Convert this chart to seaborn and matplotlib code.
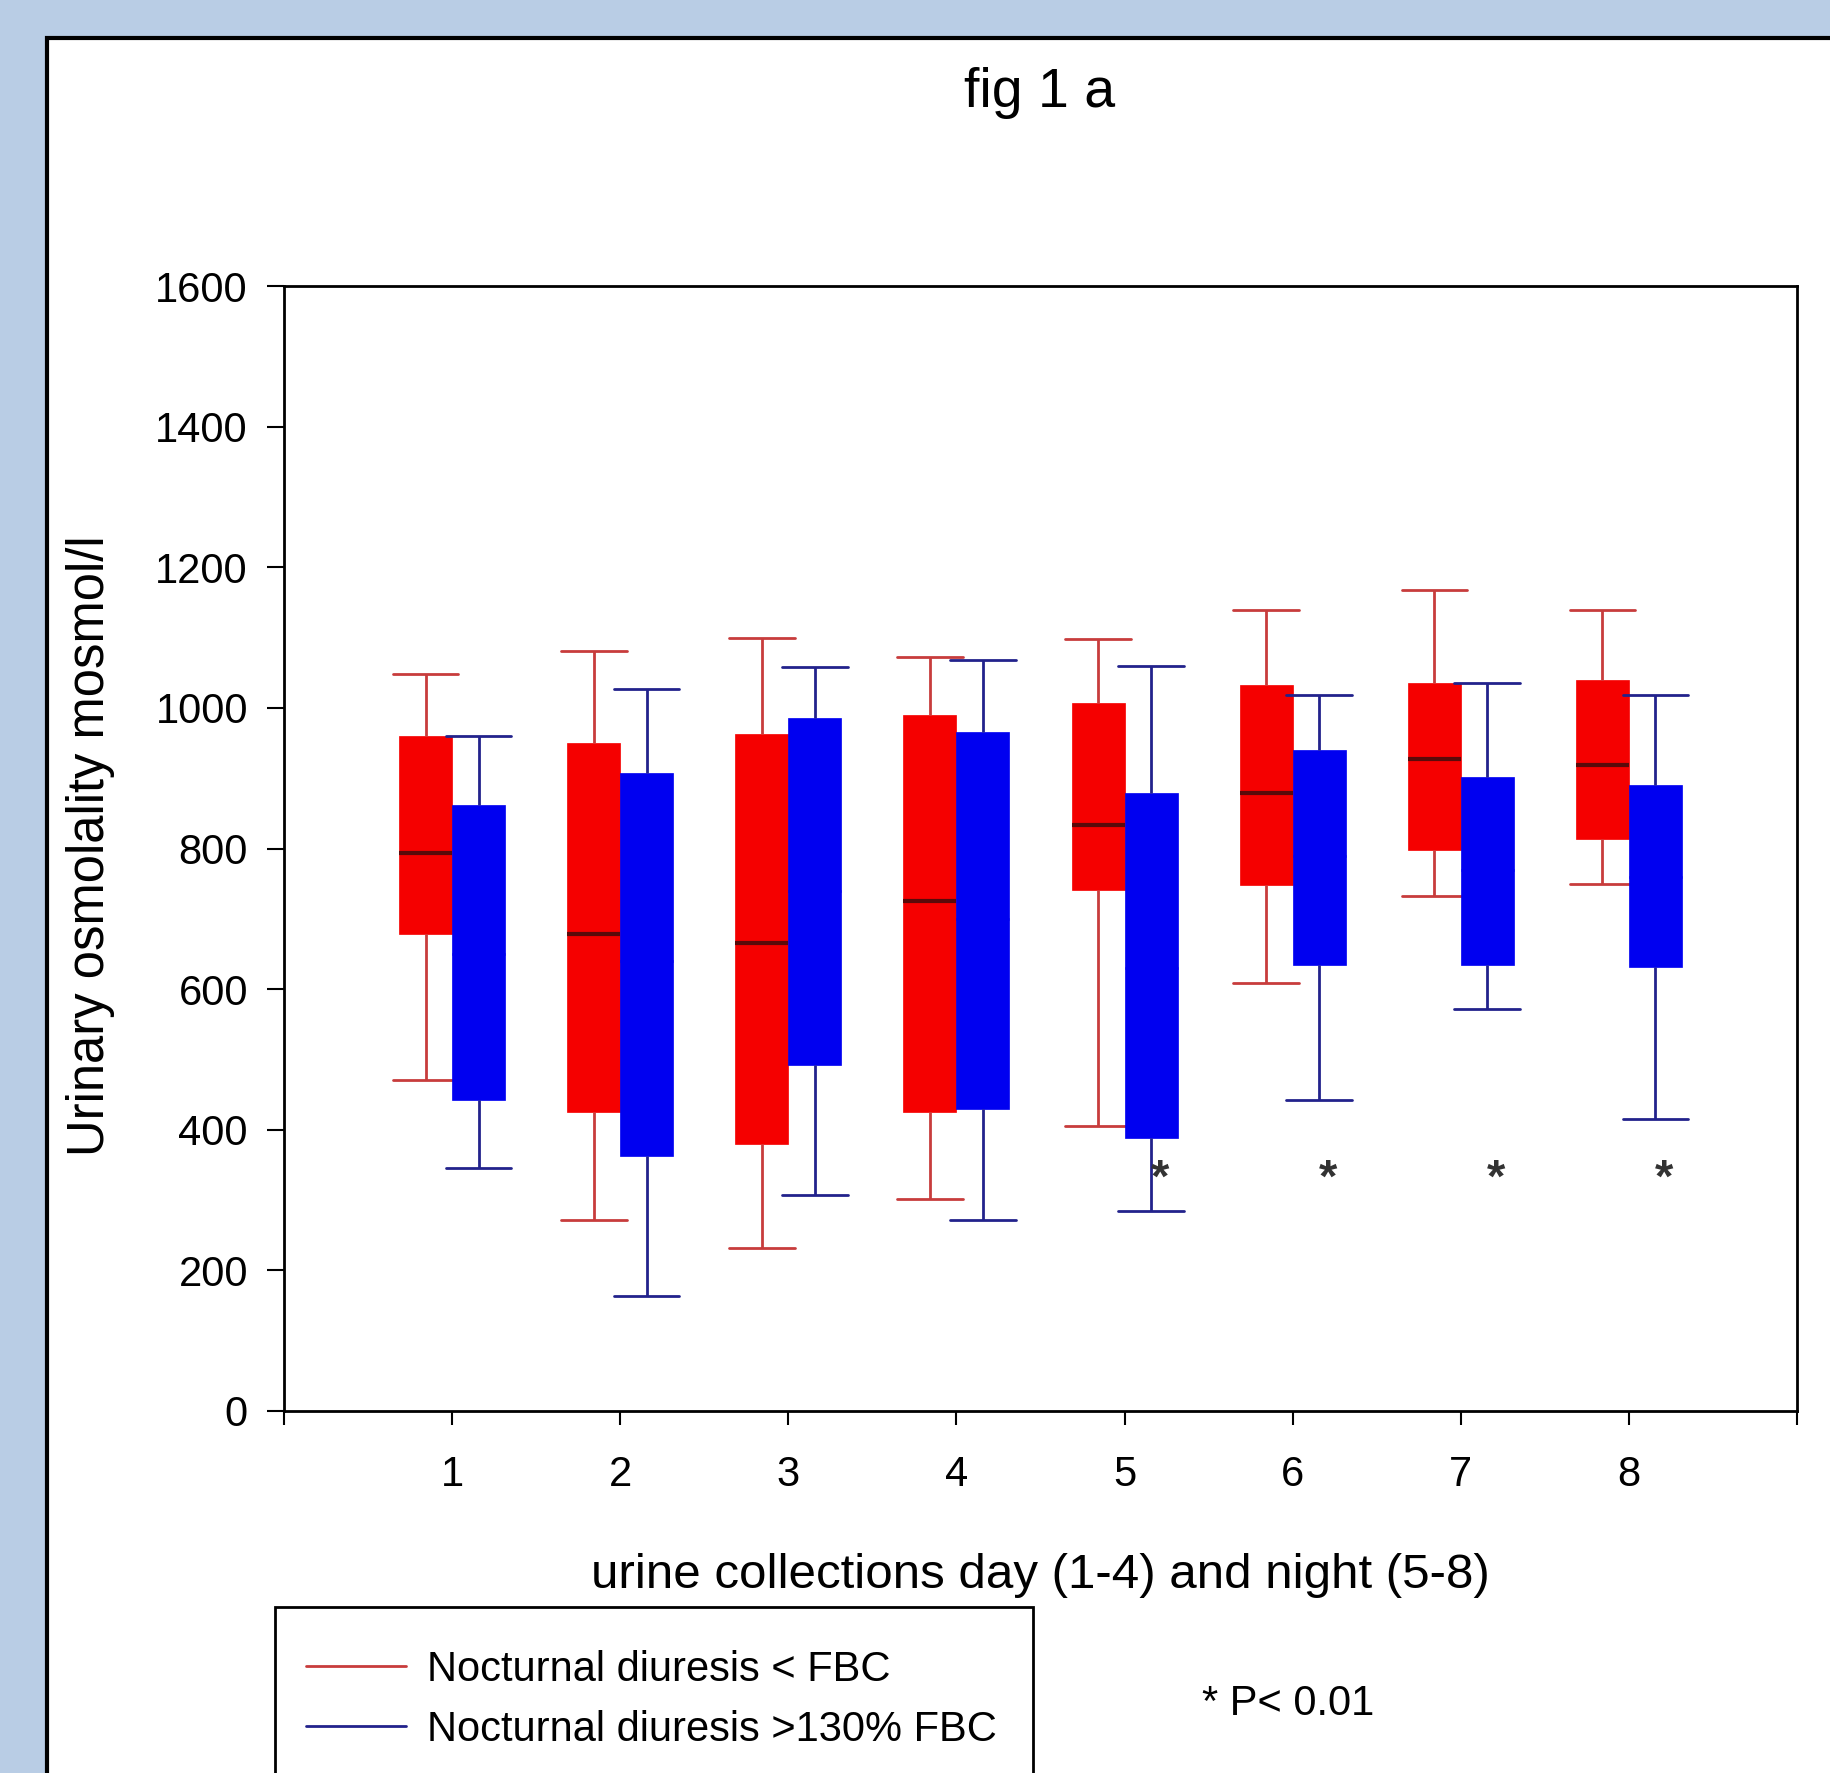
import numpy as np
import pandas as pd
import seaborn as sns
import matplotlib
matplotlib.use("Agg")
import matplotlib.pyplot as plt
from matplotlib.patches import Rectangle
from matplotlib.lines import Line2D

# ---------------- data (five-number summaries) ----------------
collections = [1, 2, 3, 4, 5, 6, 7, 8]
group_labels = ["Nocturnal diuresis < FBC", "Nocturnal diuresis >130% FBC"]

red_whislo = [471, 272, 232, 302, 405, 609, 733, 750]
red_q1     = [678, 425, 380, 425, 741, 748, 798, 814]
red_med    = [794, 678, 665, 725, 834, 879, 927, 919]
red_q3     = [960, 950, 963, 990, 1007, 1032, 1035, 1040]
red_whishi = [1048, 1081, 1100, 1073, 1098, 1139, 1167, 1139]

blue_whislo = [345, 163, 307, 272, 285, 443, 572, 415]
blue_q1     = [443, 363, 492, 430, 388, 635, 635, 632]
blue_med    = [650, 640, 740, 700, 630, 790, 770, 760]   # not visible in the figure
blue_q3     = [862, 907, 985, 965, 879, 940, 902, 891]
blue_whishi = [960, 1027, 1058, 1068, 1060, 1018, 1035, 1018]

sig_collections = [5, 6, 7, 8]
sig_level = 350
y_ticks = [0, 200, 400, 600, 800, 1000, 1200, 1400, 1600]
x_ticks = [0, 1, 2, 3, 4, 5, 6, 7, 8, 9]
x_tick_labels = ["", "1", "2", "3", "4", "5", "6", "7", "8", ""]

title = "fig 1 a"
x_label = "urine collections day (1-4) and night (5-8)"
y_label = "Urinary osmolality mosmol/l"
p_note = "* P< 0.01"

# ---------------- long table ----------------
rows = []
summaries = {
    group_labels[0]: (red_whislo, red_q1, red_med, red_q3, red_whishi),
    group_labels[1]: (blue_whislo, blue_q1, blue_med, blue_q3, blue_whishi),
}
for g, arrs in summaries.items():
    for i, c in enumerate(collections):
        for a in arrs:
            rows.append({"collection": c, "group": g, "value": a[i]})
df = pd.DataFrame(rows)

# ---------------- style ----------------
sns.set_style("white")
plt.rcParams["font.family"] = ["Liberation Sans", "DejaVu Sans"]
plt.rcParams["text.color"] = "black"
plt.rcParams["axes.labelcolor"] = "black"
plt.rcParams["xtick.color"] = "black"
plt.rcParams["ytick.color"] = "black"

BG = "#B9CDE5"
RED = "#F50000"
BLUE = "#0000F0"
RED_LINE = "#C83C3C"
BLUE_LINE = "#22228C"
MED_RED = "#5A0A0A"

W, H = 1830, 1773
fig = plt.figure(figsize=(W / 100, H / 100), dpi=100, facecolor=BG)

# white panel with black border (top & left visible)
fig.add_artist(Rectangle((47 / W, -0.1), 1.2, (H - 38) / H + 0.1,
                         transform=fig.transFigure, facecolor="white",
                         edgecolor="black", linewidth=3, zorder=-5))

ax = fig.add_axes([284 / W, 1 - 1411 / H, (1797 - 284) / W, (1411 - 286) / H])
ax.set_facecolor("white")

palette = {group_labels[0]: RED, group_labels[1]: BLUE}
common = dict(x="collection", y="value", hue="group", hue_order=group_labels,
              palette=palette, saturation=1, native_scale=True, dodge=True,
              width=0.63, gap=0, whis=(0, 100), fliersize=0, legend=False,
              ax=ax, capwidths=0.39)

sns.boxplot(data=df[df["group"] == group_labels[0]], linecolor=RED_LINE, linewidth=2,
            boxprops=dict(edgecolor=RED, linewidth=0.5),
            medianprops=dict(color=MED_RED, linewidth=3), **common)
sns.boxplot(data=df[df["group"] == group_labels[1]], linecolor=BLUE_LINE, linewidth=2,
            boxprops=dict(edgecolor=BLUE, linewidth=0.5),
            medianprops=dict(color=BLUE, linewidth=2), **common)

for c in sig_collections:
    ax.annotate("*", xy=(c + 0.21, sig_level), xytext=(0, -19),
                textcoords="offset points", ha="center", va="baseline",
                fontsize=34, fontweight="bold", color="#333333")

ax.set_xlim(0, 9)
ax.set_ylim(0, 1600)
ax.set_xticks(x_ticks)
ax.set_xticklabels(x_tick_labels)
ax.set_yticks(y_ticks)
ax.set_xlabel("")
ax.set_ylabel("")
ax.grid(False)
for s in ax.spines.values():
    s.set_visible(True)
    s.set_color("black")
    s.set_linewidth(2)
ax.tick_params(axis="x", bottom=True, direction="out", length=10, width=1.5,
               pad=22, labelsize=30, colors="black")
ax.tick_params(axis="y", left=True, direction="out", length=12, width=1.5,
               pad=14, labelsize=30, colors="black")

fig.text(1040 / W, 1 - 93 / H, title, ha="center", va="center", fontsize=40)
fig.text(1040 / W, 1 - 1576 / H, x_label, ha="center", va="center", fontsize=35.5)
fig.text(91 / W, 1 - 846 / H, y_label, ha="center", va="center", rotation=90, fontsize=36.5)

# legend box (runs off the bottom of the figure)
fig.add_artist(Rectangle((275 / W, -0.1), (1033 - 275) / W, 0.1 + (1 - 1607 / H),
                         transform=fig.transFigure, facecolor="white",
                         edgecolor="black", linewidth=2, zorder=1))
handles = [Line2D([0], [0], color=RED_LINE, lw=2), Line2D([0], [0], color=BLUE_LINE, lw=2)]
leg = fig.legend(handles, group_labels, loc="upper left",
                 bbox_to_anchor=(306 / W, 1 - 1650 / H), bbox_transform=fig.transFigure,
                 frameon=False, fontsize=30, handlelength=2.4, handletextpad=0.5,
                 labelspacing=0.47, borderpad=0, borderaxespad=0)
leg.set_zorder(2)

fig.text(1202 / W, 1 - 1704 / H, p_note, ha="left", va="center", fontsize=30)

fig.savefig("out.png", dpi=100, facecolor=BG)
